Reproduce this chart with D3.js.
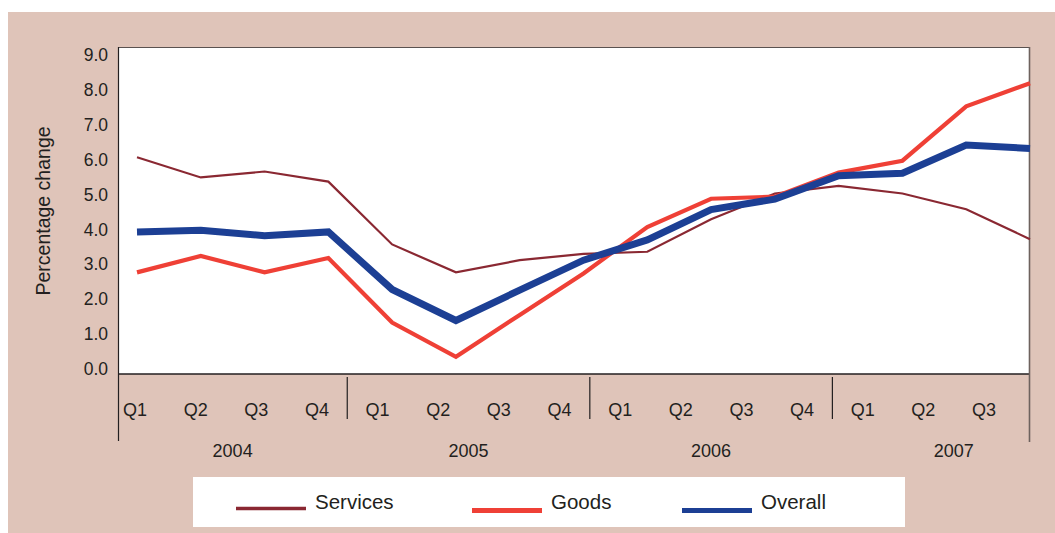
<!DOCTYPE html>
<html>
<head>
<meta charset="utf-8">
<script src="https://cdn.jsdelivr.net/npm/d3@7"></script>
<style>
  html, body { margin: 0; padding: 0; background: #ffffff; }
  svg { display: block; font-family: "Liberation Sans", Arial, sans-serif; }
</style>
</head>
<body>
<script>
// Quarterly percentage change, 2004 Q1 to 2007 Q3
const periods = [
  "2004 Q1", "2004 Q2", "2004 Q3", "2004 Q4",
  "2005 Q1", "2005 Q2", "2005 Q3", "2005 Q4",
  "2006 Q1", "2006 Q2", "2006 Q3", "2006 Q4",
  "2007 Q1", "2007 Q2", "2007 Q3"
];
const years = ["2004", "2005", "2006", "2007"];
const yTicks = [0, 1, 2, 3, 4, 5, 6, 7, 8, 9];

const services = [6.07, 5.49, 5.66, 5.37, 3.57, 2.77, 3.12, 3.30, 3.36, 4.29, 5.03, 5.25, 5.03, 4.58, 3.72];
const goods    = [2.77, 3.24, 2.77, 3.18, 1.33, 0.35, 1.55, 2.74, 4.07, 4.88, 4.94, 5.63, 5.97, 7.53, 8.19];
const overall  = [3.93, 3.98, 3.82, 3.93, 2.28, 1.39, 2.26, 3.12, 3.70, 4.57, 4.87, 5.54, 5.61, 6.42, 6.32];

const seriesNames = ["Services", "Goods", "Overall"];

const W = 1055, H = 533;
const panel = { left: 8, top: 12 };
const plot = { left: 118, right: 1029, top: 47, bottom: 374 };
const textColor = "#231f20";
const colors = { Services: "#8a2832", Goods: "#ef4036", Overall: "#1c3f94" };
const widths = { Services: 2.2, Goods: 4.2, Overall: 7 };

const svg = d3.select("body").append("svg")
  .attr("width", W).attr("height", H);

// backdrop
svg.append("rect").attr("x", 0).attr("y", 0).attr("width", W).attr("height", H).attr("fill", "#ffffff");
svg.append("rect").attr("x", panel.left).attr("y", panel.top)
  .attr("width", W - panel.left).attr("height", H - panel.top).attr("fill", "#dfc4b9");

// scales: one for the plotted points, one for the category labels underneath
const x = d3.scalePoint().domain(periods).range([137, 1030]);
const xLab = d3.scalePoint().domain(periods).range([135, 984]);
const y = d3.scaleLinear().domain([0, 9]).range([369, 55]);

// plot area
svg.append("rect").attr("x", plot.left).attr("y", plot.top)
  .attr("width", plot.right - plot.left).attr("height", plot.bottom - plot.top)
  .attr("fill", "#ffffff");

// frame
const frame = svg.append("g").attr("fill", "none");
frame.append("line").attr("x1", plot.left).attr("x2", plot.right)
  .attr("y1", plot.top + 0.5).attr("y2", plot.top + 0.5).attr("stroke", "#5a5250").attr("stroke-width", 1);
frame.append("line").attr("x1", plot.left).attr("x2", plot.right)
  .attr("y1", plot.bottom).attr("y2", plot.bottom).attr("stroke", textColor).attr("stroke-width", 1.5);
frame.append("line").attr("x1", plot.left + 0.5).attr("x2", plot.left + 0.5)
  .attr("y1", plot.top).attr("y2", 441).attr("stroke", textColor).attr("stroke-width", 1.2);
frame.append("line").attr("x1", plot.right + 0.5).attr("x2", plot.right + 0.5)
  .attr("y1", plot.top).attr("y2", 442).attr("stroke", "#6e625e").attr("stroke-width", 1.6);

// y-axis labels
const yAxis = d3.axisLeft(y).tickValues(yTicks).tickFormat(d3.format(".1f")).tickSize(0).tickPadding(0);
const gy = svg.append("g").attr("transform", `translate(108,0)`).call(yAxis);
gy.select(".domain").remove();
gy.selectAll("text").attr("font-size", 17.5).attr("fill", textColor)
  .attr("font-family", "Liberation Sans, Arial, sans-serif");

svg.append("text")
  .attr("transform", `translate(50,211) rotate(-90)`)
  .attr("text-anchor", "middle")
  .attr("font-size", 19.5).attr("fill", textColor)
  .text("Percentage change");

// quarter labels
svg.append("g").selectAll("text").data(periods).join("text")
  .attr("x", d => xLab(d)).attr("y", 416)
  .attr("text-anchor", "middle").attr("font-size", 18).attr("fill", textColor)
  .text(d => d.split(" ")[1]);

// year separators between the quarter labels
const step = xLab.step();
years.slice(1).forEach(yr => {
  const sx = xLab(yr + " Q1") - step / 2;
  svg.append("line").attr("x1", sx).attr("x2", sx).attr("y1", 377).attr("y2", 419)
    .attr("stroke", textColor).attr("stroke-width", 1.2);
});

// year labels, centred on each year's span of quarter slots
years.forEach(yr => {
  const first = xLab(yr + " Q1");
  const left = Math.max(plot.left, first - step / 2);
  const right = first + step * 3.5;
  svg.append("text").attr("x", (left + right) / 2).attr("y", 456.5)
    .attr("text-anchor", "middle").attr("font-size", 18).attr("fill", textColor)
    .text(yr);
});

// lines
const seriesData = { Services: services, Goods: goods, Overall: overall };
const line = d3.line().x((d, i) => x(periods[i])).y(d => y(d));
seriesNames.forEach(name => {
  svg.append("path").datum(seriesData[name])
    .attr("d", line).attr("fill", "none")
    .attr("stroke", colors[name]).attr("stroke-width", widths[name])
    .attr("stroke-linejoin", "miter").attr("stroke-linecap", "butt");
});

// legend
const legend = svg.append("g");
legend.append("rect").attr("x", 193).attr("y", 477).attr("width", 712).attr("height", 50).attr("fill", "#ffffff");
const legendX = { Services: 236, Goods: 472, Overall: 682 };
const legendLineW = { Services: 3.5, Goods: 5, Overall: 5 };
const legendLineY = { Services: 508.5, Goods: 510.5, Overall: 510.5 };
seriesNames.forEach(name => {
  legend.append("line").attr("x1", legendX[name]).attr("x2", legendX[name] + 70)
    .attr("y1", legendLineY[name]).attr("y2", legendLineY[name])
    .attr("stroke", colors[name]).attr("stroke-width", legendLineW[name]);
  legend.append("text").attr("x", legendX[name] + 79).attr("y", 509)
    .attr("font-size", 20.5).attr("fill", textColor).text(name);
});
</script>
</body>
</html>
